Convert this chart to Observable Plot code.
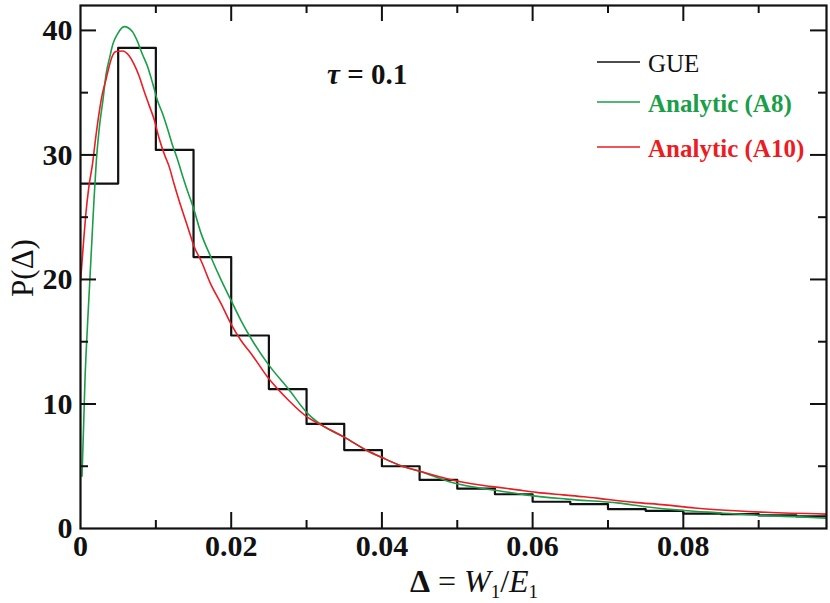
<!DOCTYPE html>
<html><head><meta charset="utf-8">
<script src="https://cdn.jsdelivr.net/npm/d3@7"></script>
<script src="https://cdn.jsdelivr.net/npm/@observablehq/plot@0.6"></script>
<style>body{margin:0;background:#fff}</style>
</head><body><div id="chart"></div>
<script>
// GUE histogram (bin starts, width 0.005)
const binWidth = 0.005;
const binStarts = [0,0.005,0.01,0.015,0.02,0.025,0.03,0.035,0.04,0.045,0.05,0.055,0.06,0.065,0.07,0.075,0.08,0.085,0.09,0.095];
const gueValues = [27.7,38.6,30.4,21.8,15.5,11.2,8.4,6.3,5.0,3.9,3.2,2.75,2.15,1.95,1.56,1.42,1.2,1.16,1.05,0.97];

// Analytic (A8) - green
const a8X = [0.0002,0.0004,0.0006,0.0009,0.0012,0.0015,0.0018,0.0021,0.0025,0.003,0.0034,0.0039,0.0043,0.0049,0.0058,0.0069,0.0075,0.0082,0.0089,0.0096,0.0102,0.0109,0.0116,0.0122,0.0129,0.0136,0.0142,0.0149,0.016,0.0173,0.0187,0.02,0.0213,0.0227,0.0249,0.0276,0.0302,0.032,0.0351,0.0382,0.04,0.0427,0.045,0.0493,0.052,0.0555,0.059,0.0645,0.0715,0.075,0.08,0.085,0.09,0.095,0.099];
const a8Y = [4.2,8,12,16,19.5,23,26.5,29.5,32.2,34.5,36.5,37.9,38.9,39.7,40.3,39.9,39.2,38.1,37.1,35.7,34.4,33.3,32.0,30.8,29.6,28.2,27.1,25.9,23.7,21.8,19.9,18.3,16.7,15.2,13.2,11.2,9.2,8.3,7.3,6.2,5.7,5.0,4.6,3.7,3.35,3.03,2.7,2.36,2.04,1.75,1.45,1.25,1.05,0.95,0.82];

// Analytic (A10) - red
const a10X = [0,0.0004,0.0007,0.0011,0.0016,0.002,0.0025,0.0029,0.0034,0.0038,0.0042,0.0047,0.0056,0.0064,0.0071,0.0078,0.0084,0.0091,0.0098,0.0104,0.0111,0.0118,0.0124,0.0131,0.0138,0.0144,0.0151,0.016,0.0173,0.0187,0.02,0.0213,0.0227,0.0249,0.0276,0.0302,0.032,0.0351,0.0382,0.04,0.0427,0.045,0.0493,0.053,0.0555,0.058,0.0605,0.064,0.0668,0.07,0.0735,0.0775,0.0815,0.0845,0.091,0.099];
const a10Y = [19.8,23,25.2,27.4,29.3,31.3,33.5,34.9,36.1,37.1,37.9,38.3,38.35,38.0,37.3,36.3,35.2,34.0,32.8,31.4,30.1,29.0,27.7,26.3,25.0,23.9,22.6,21.5,19.6,18.0,16.4,15.1,14.0,12.1,10.3,8.9,8.3,7.3,6.2,5.7,5.0,4.6,3.9,3.5,3.3,3.1,2.9,2.7,2.55,2.33,2.1,1.9,1.65,1.5,1.3,1.15];

// axes
const xDomain = [0, 0.099];
const yDomain = [0, 42];
const xTickLabels = [0, 0.02, 0.04, 0.06, 0.08];
const xTickMajor = [0.02, 0.04, 0.06, 0.08];
const xTickMinor = [0.01, 0.03, 0.05, 0.07, 0.09];
const yTickLabels = [0, 10, 20, 30, 40];
const yTickMajor = [10, 20, 30, 40];
const yTickMinor = [5, 15, 25, 35];

const seriesNames = ["GUE", "Analytic (A8)", "Analytic (A10)"];
const seriesColors = ["#111111", "#1a9e48", "#ec1c24"];

const W = 830, H = 603;
const mL = 80, mR = 4, mT = 5, mB = 75;
const iw = W - mL - mR, ih = H - mT - mB;
const majorLen = 16, minorLen = 8;

const histRows = binStarts.map((x, i) => ({x, y: gueValues[i]}));
histRows.push({x: binStarts[binStarts.length - 1] + binWidth, y: gueValues[gueValues.length - 1]});
const a8 = a8X.map((x, i) => ({x, y: a8Y[i]}));
const a10 = a10X.map((x, i) => ({x, y: a10Y[i]}));

const font = "'Liberation Serif', 'Times New Roman', serif";

const plot = Plot.plot({
  width: W, height: H,
  marginLeft: mL, marginRight: mR, marginTop: mT, marginBottom: mB,
  style: {fontFamily: font, fontSize: "30px", background: "#fff", color: "#111"},
  x: {domain: xDomain},
  y: {domain: yDomain},
  marks: [
    Plot.axisX(xTickLabels, {tickSize: 0, tickPadding: 6, fontWeight: "bold", tickFormat: d => d === 0 ? "0" : d.toFixed(2), label: null}),
    Plot.axisY(yTickLabels, {tickSize: 0, tickPadding: 8, fontWeight: "bold", tickFormat: d => String(d), label: null}),
    Plot.line(histRows, {x: "x", y: "y", curve: "step-after", stroke: seriesColors[0], strokeWidth: 2.2, clip: true}),
    Plot.line(a8, {x: "x", y: "y", curve: "monotone-x", stroke: seriesColors[1], strokeWidth: 1.6, clip: true}),
    Plot.line(a10, {x: "x", y: "y", curve: "monotone-x", stroke: seriesColors[2], strokeWidth: 1.6, clip: true}),
    // inward ticks on all four sides
    Plot.ruleX(xTickMajor, {x: d => d, insetTop: ih - majorLen, stroke: "#111", strokeWidth: 2}),
    Plot.ruleX(xTickMinor, {x: d => d, insetTop: ih - minorLen, stroke: "#111", strokeWidth: 2}),
    Plot.ruleX(xTickMajor, {x: d => d, insetBottom: ih - majorLen, stroke: "#111", strokeWidth: 2}),
    Plot.ruleX(xTickMinor, {x: d => d, insetBottom: ih - minorLen, stroke: "#111", strokeWidth: 2}),
    Plot.ruleY(yTickMajor, {y: d => d, insetRight: iw - majorLen, stroke: "#111", strokeWidth: 2}),
    Plot.ruleY(yTickMinor, {y: d => d, insetRight: iw - minorLen, stroke: "#111", strokeWidth: 2}),
    Plot.ruleY(yTickMajor, {y: d => d, insetLeft: iw - majorLen, stroke: "#111", strokeWidth: 2}),
    Plot.ruleY(yTickMinor, {y: d => d, insetLeft: iw - minorLen, stroke: "#111", strokeWidth: 2}),
    Plot.frame({stroke: "#111", strokeWidth: 2.2})
  ]
});

document.getElementById("chart").appendChild(plot);
const svg = d3.select(plot);

// legend
const legendRows = [62, 102, 147];
seriesNames.forEach((name, i) => {
  svg.append("line").attr("x1", 597).attr("x2", 640).attr("y1", legendRows[i]).attr("y2", legendRows[i])
    .attr("stroke", seriesColors[i]).attr("stroke-width", 1.6);
  svg.append("text").attr("x", 648).attr("y", legendRows[i] + 10).attr("text-anchor", "start")
    .attr("fill", seriesColors[i]).attr("font-family", font).attr("font-size", 25)
    .attr("font-weight", i === 0 ? "normal" : "bold").text(name);
});

// tau annotation
const tau = svg.append("text").attr("x", 327).attr("y", 84).attr("text-anchor", "start")
  .attr("font-family", font).attr("font-size", 29).attr("font-weight", "bold").attr("fill", "#111");
tau.append("tspan").attr("font-style", "italic").text("τ");
tau.append("tspan").text(" = 0.1");

// x label
const xl = svg.append("text").attr("x", 474).attr("y", 592).attr("text-anchor", "middle")
  .attr("font-family", font).attr("font-size", 32).attr("fill", "#111");
xl.append("tspan").attr("font-weight", "bold").text("Δ");
xl.append("tspan").text(" = ");
xl.append("tspan").attr("font-style", "italic").text("W");
xl.append("tspan").attr("font-size", 19).attr("dy", 6).text("1");
xl.append("tspan").attr("dy", -6).text("/");
xl.append("tspan").attr("font-style", "italic").text("E");
xl.append("tspan").attr("font-size", 19).attr("dy", 6).text("1");

// y label
svg.append("text").attr("transform", "translate(33,268) rotate(-90)").attr("text-anchor", "middle")
  .attr("font-family", font).attr("font-size", 31).attr("fill", "#111").text("P(Δ)");
</script>
</body></html>
